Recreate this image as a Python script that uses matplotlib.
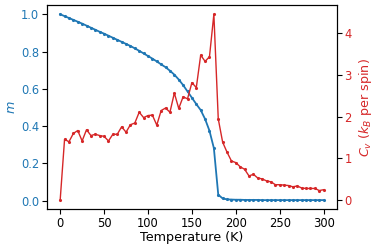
import numpy as np
import matplotlib
matplotlib.use('Agg')
import matplotlib.pyplot as plt

# temperature grid (K)
temps = np.arange(0, 301, 5)

# magnetisation per spin
mag = [1.000, 0.990, 0.980, 0.970, 0.960, 0.950, 0.939, 0.928, 0.917, 0.906,
       0.896, 0.885, 0.874, 0.863, 0.852, 0.841, 0.830, 0.817, 0.804, 0.790,
       0.776, 0.762, 0.747, 0.731, 0.716, 0.697, 0.676, 0.650, 0.620, 0.586,
       0.552, 0.518, 0.486, 0.438, 0.375, 0.282, 0.032, 0.012, 0.007, 0.006,
       0.005, 0.005, 0.004, 0.004, 0.004, 0.004, 0.003, 0.003, 0.003, 0.003,
       0.003, 0.003, 0.003, 0.003, 0.003, 0.003, 0.003, 0.003, 0.003, 0.003,
       0.003]

# heat capacity (k_B per spin)
cv = [0.00, 1.46, 1.40, 1.60, 1.67, 1.42, 1.69, 1.55, 1.58, 1.55,
      1.53, 1.42, 1.58, 1.58, 1.76, 1.63, 1.81, 1.85, 2.11, 1.98,
      2.03, 2.04, 1.80, 2.15, 2.21, 2.11, 2.57, 2.20, 2.48, 2.43,
      2.82, 2.70, 3.48, 3.33, 3.44, 4.46, 1.95, 1.39, 1.15, 0.94,
      0.90, 0.80, 0.74, 0.58, 0.62, 0.53, 0.51, 0.46, 0.44, 0.37,
      0.37, 0.36, 0.35, 0.32, 0.34, 0.29, 0.28, 0.28, 0.28, 0.23,
      0.25]

blue = 'tab:blue'
red = 'tab:red'

fig, ax = plt.subplots(figsize=(3.73, 2.49), dpi=100)
fig.subplots_adjust(left=0.126, right=0.903, bottom=0.159, top=0.98)

ax.plot(temps, mag, color=blue, marker='.', markersize=2.5, linewidth=1.3)
ax.set_xlabel('Temperature (K)', fontsize=9.2, labelpad=1)
ax.set_ylabel('$m$', color=blue, fontsize=9.2, labelpad=2)
ax.tick_params(axis='y', labelcolor=blue, labelsize=8.3, pad=2)
ax.tick_params(axis='x', labelsize=8.3, pad=2)
ax.set_xticks([0, 50, 100, 150, 200, 250, 300])

ax2 = ax.twinx()
ax2.plot(temps, cv, color=red, marker='.', markersize=2.5, linewidth=1)
ax2.set_ylabel('$C_v$ ($k_B$ per spin)', color=red, fontsize=9.2, labelpad=4)
ax2.tick_params(axis='y', labelcolor=red, labelsize=8.3, pad=2)
ax2.set_yticks([0, 1, 2, 3, 4])

fig.savefig('out.png', dpi=100)
